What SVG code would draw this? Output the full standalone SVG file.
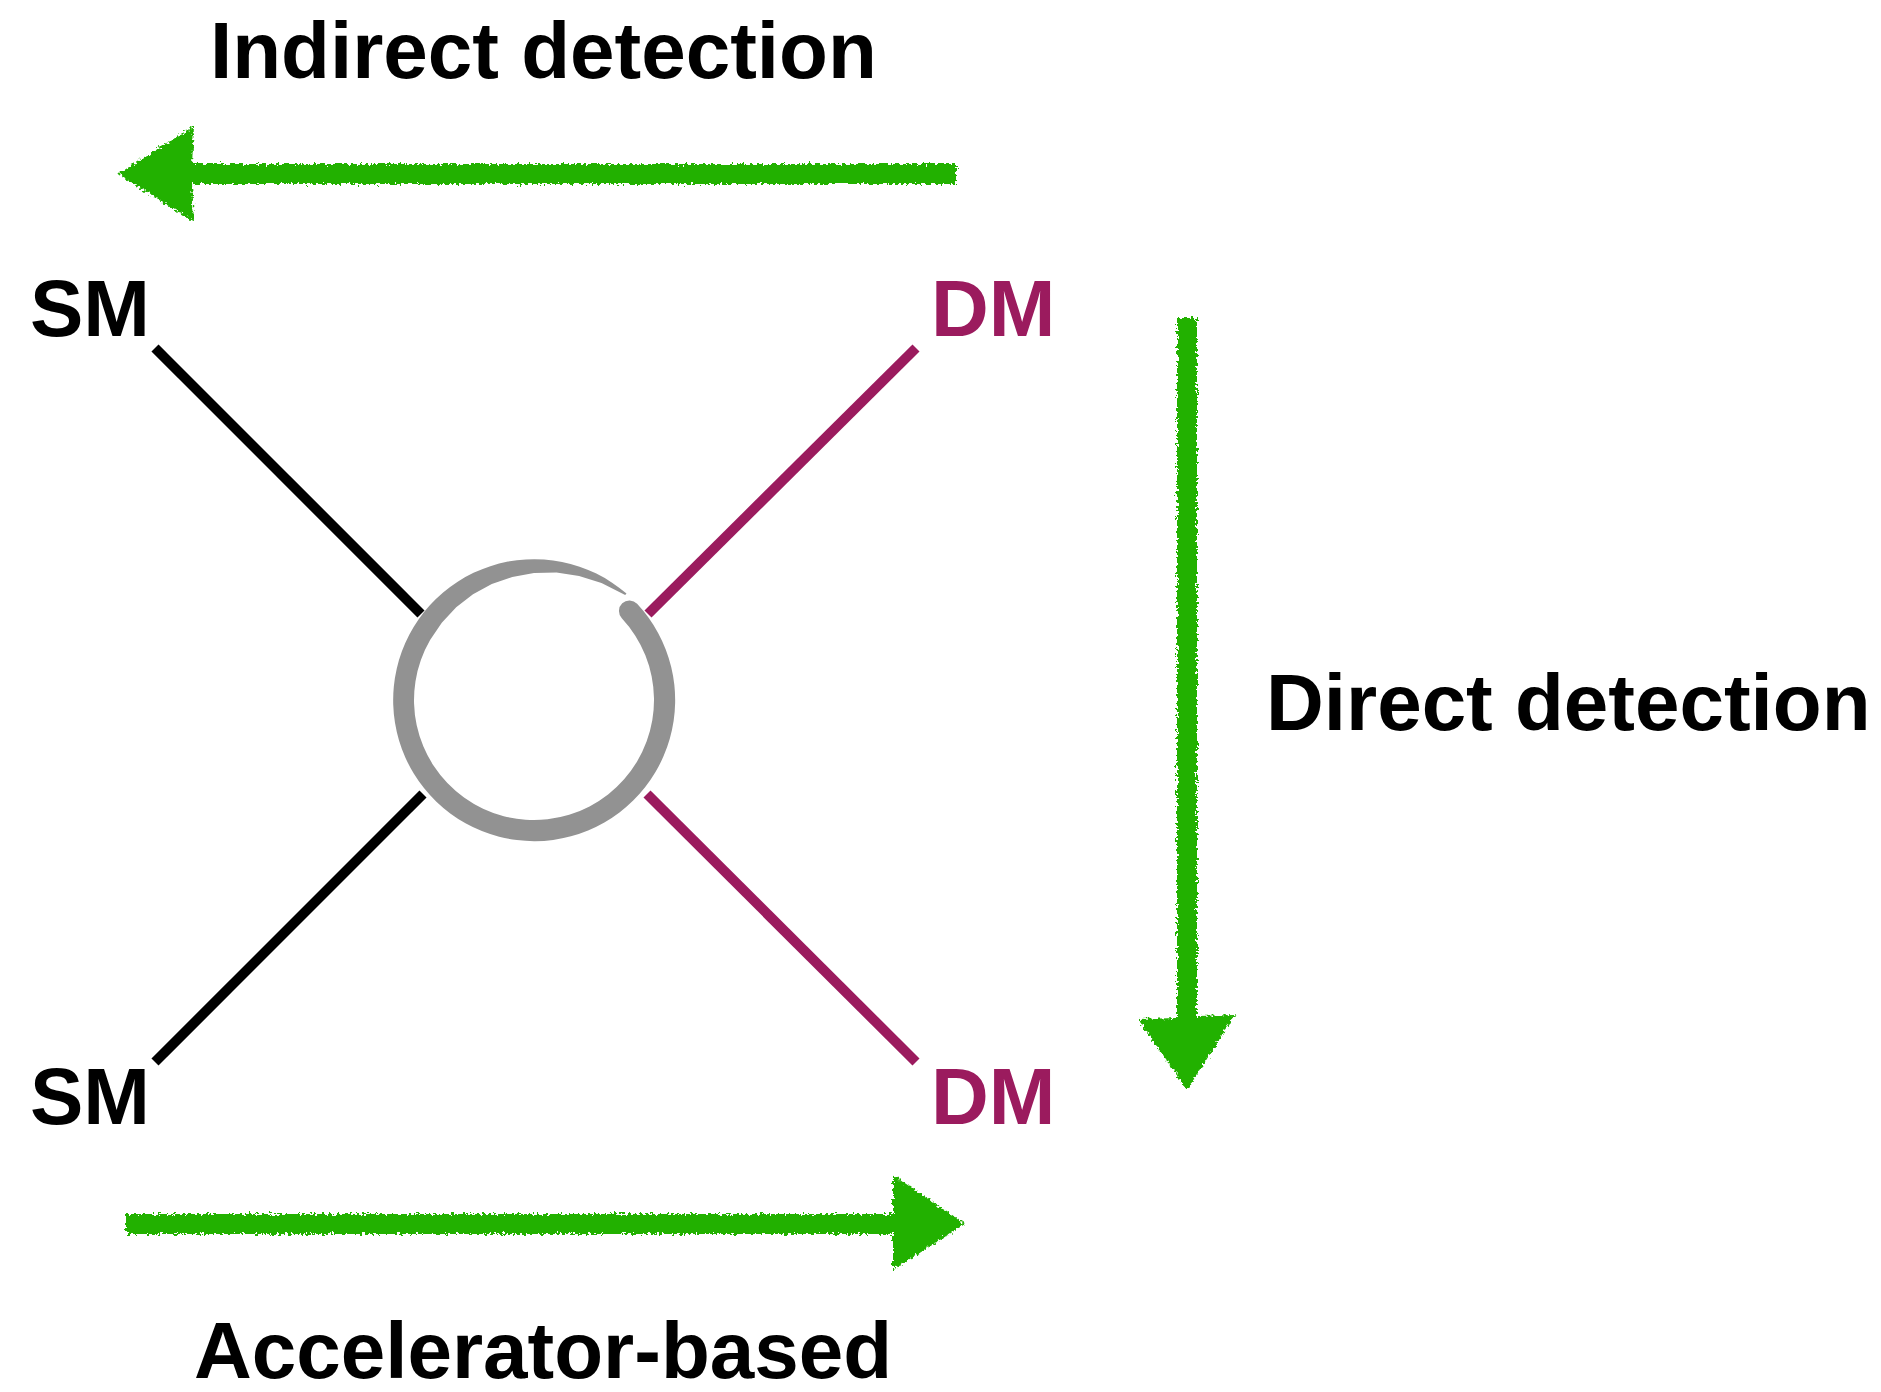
<svg xmlns="http://www.w3.org/2000/svg" width="1881" height="1392" viewBox="0 0 1881 1392">
  <defs>
    <filter id="rough" x="-10%" y="-10%" width="120%" height="120%">
      <feTurbulence type="fractalNoise" baseFrequency="0.35" numOctaves="2" seed="3" result="n"/>
      <feDisplacementMap in="SourceGraphic" in2="n" scale="8" xChannelSelector="R" yChannelSelector="G"/>
    </filter>
  </defs>
  <style>
    .lbl { font-family: "Liberation Sans", Arial, Helvetica, sans-serif; font-weight: bold; font-size: 80px; }
    .sm { fill: #000000; }
    .dm { fill: #9b1b5e; }
    .lsm { stroke: #000000; stroke-width: 10; fill: none; }
    .ldm { stroke: #9b1b5e; stroke-width: 10; fill: none; }
    .green { fill: #22b100; filter: url(#rough); }
    .brush { fill: #929292; }
  </style>
  <rect width="1881" height="1392" fill="#ffffff"/>

  <g id="connectors">
    <line class="lsm" x1="155" y1="348" x2="421" y2="614"/>
    <line class="ldm" x1="916" y1="348" x2="648" y2="614"/>
    <line class="lsm" x1="423" y1="794" x2="155" y2="1062"/>
    <line class="ldm" x1="647" y1="794" x2="916" y2="1062"/>
    <g id="arrow-indirect">
      <path class="green" d="M 956 164 L 192 164 L 194 126 L 118 174 L 194 222 L 192 184 L 956 184 Z"/>
    </g>
    <g id="arrow-direct">
      <path class="green" d="M 1177 318 L 1197 318 L 1197 1016 L 1235 1015 L 1187 1090 L 1138 1019 L 1177 1018 Z"/>
    </g>
    <g id="arrow-accelerator">
      <path class="green" d="M 126 1214 L 893 1214 L 893 1175 L 965 1224 L 893 1270 L 893 1234 L 126 1234 Z"/>
    </g>
  </g>

  <g id="vertex">
    <path class="brush" d="M 637.1 603.8 A 141 141 0 1 1 626.5 593.6 L 625.2 595.1 L 601.5 583.1 L 579.1 576.0 L 556.5 572.5 L 534 573 L 512.3 576.9 L 491.8 584.1 L 473.0 594.3 L 456.2 607.3 L 441.8 622.7 L 430.1 640.0 A 120 120 0 1 0 621.8 618.2 A 10.5 10.5 0 0 1 637.1 603.8 Z"/>
  </g>

  <g id="node-sm-top"><text class="lbl sm" x="30" y="336">SM</text></g>
  <g id="node-dm-top"><text class="lbl dm" x="931" y="336">DM</text></g>
  <g id="node-sm-bottom"><text class="lbl sm" x="30" y="1124">SM</text></g>
  <g id="node-dm-bottom"><text class="lbl dm" x="931" y="1124">DM</text></g>

  <g id="label-indirect"><text class="lbl sm" x="210" y="78">Indirect detection</text></g>
  <g id="label-direct"><text class="lbl sm" x="1266" y="730">Direct detection</text></g>
  <g id="label-accelerator"><text class="lbl sm" x="194" y="1378">Accelerator-based</text></g>
</svg>
